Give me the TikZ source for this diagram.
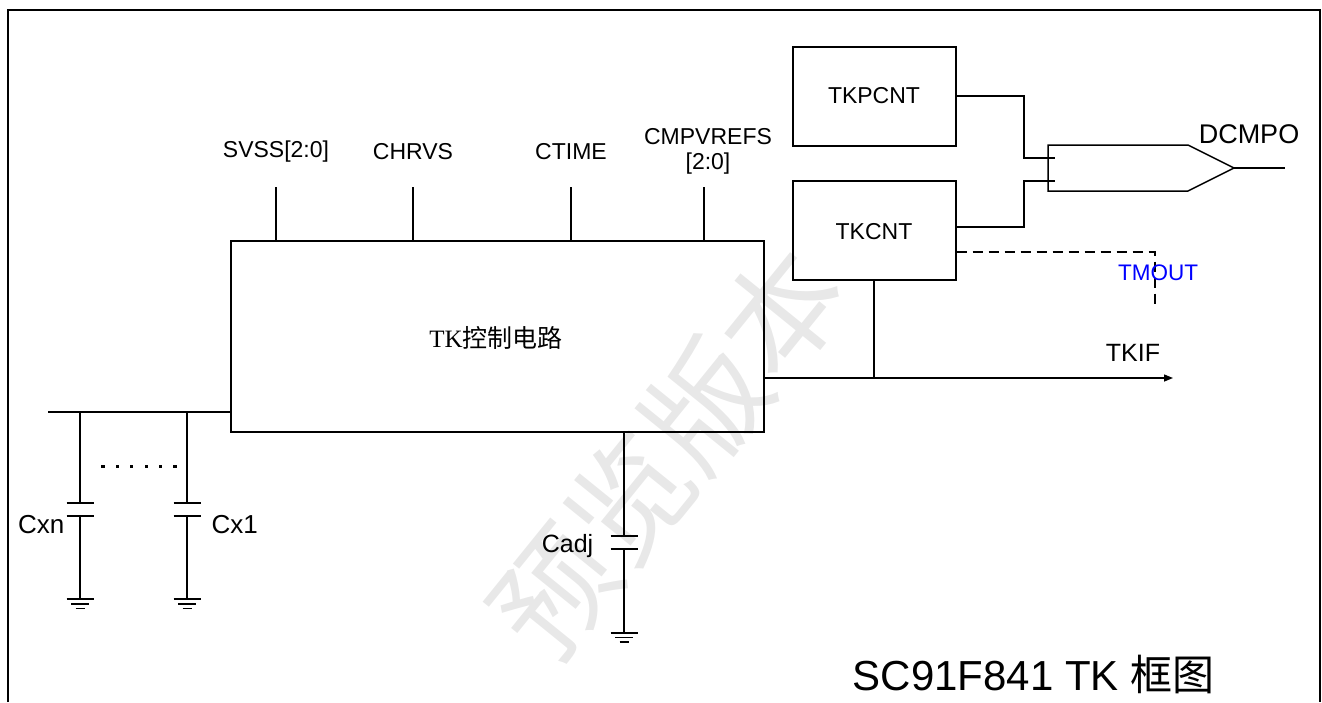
\documentclass[tikz,border=0pt]{standalone}
\usepackage{fontspec}
\setmainfont{Liberation Sans}
\newfontfamily\cjk{Noto Sans CJK SC}
\newfontfamily\tms{Liberation Serif}
\usetikzlibrary{arrows.meta}
\definecolor{tmblue}{RGB}{0,0,255}
\begin{document}
\begin{tikzpicture}[x=1pt,y=-1pt,line width=1.4pt,
  box/.style={draw,line width=1.6pt,inner sep=0pt,anchor=north west},
  lbl/.style={inner sep=0pt,font=\fontsize{23}{26}\selectfont},
  plate/.style={line width=1.4pt},
  dashline/.style={dash pattern=on 10pt off 6pt}]
\useasboundingbox (0,0) rectangle (1322,702);
% watermark
\node[rotate=51,text=gray!18,inner sep=0pt,font=\cjk\fontsize{120}{120}\selectfont] (wm) at (668,452) {预览版本};
% frame
\draw[line width=2pt] (8,702) -- (8,10) -- (1320,10) -- (1320,702);
% main block
\node[box,minimum width=533pt,minimum height=191pt] (ctl) at (230,240) {};
\node[inner sep=0pt] (ctltxt) at (496,338) {\fontsize{25}{28}\selectfont\tms TK\cjk 控制电路};
% pins
\coordinate (p1) at (276,187);
\coordinate (p2) at (413,187);
\coordinate (p3) at (571,187);
\coordinate (p4) at (704,187);
\foreach \p in {p1,p2,p3,p4} \draw (\p) -- (\p |- ctl.north);
\node[lbl] (lsvss) at (276,152) {SVSS[2:0]};
\node[lbl] (lchrvs) at (413,152) {CHRVS};
\node[lbl] (lctime) at (571,152) {CTIME};
\node[lbl] (lcmp) at (708,137) {CMPVREFS};
\node[lbl] (lcmp2) at (708,164) {[2:0]};
% counters
\node[box,minimum width=163pt,minimum height=99pt] (tkp) at (792,46) {};
\node[lbl] (tkptxt) at (874,96) {TKPCNT};
\node[box,minimum width=163pt,minimum height=99pt] (tkc) at (792,180) {};
\node[lbl] (tkctxt) at (874,232) {TKCNT};
% comparator
\coordinate (gA) at (1048,145);
\coordinate (gB) at (1188,145);
\coordinate (gT) at (1234,168);
\coordinate (gC) at (1188,191);
\coordinate (gD) at (1048,191);
\draw[line width=1.5pt] (gA) -- (gB) -- (gT) -- (gC) -- (gD) -- cycle;
\coordinate (gout) at (1285,168);
\draw (gT) -- (gout);
\node[inner sep=0pt,font=\fontsize{27}{30}\selectfont] (ldcmpo) at (1249,134) {DCMPO};
\coordinate (in1) at (1055,158);
\coordinate (in2) at (1055,181);
\draw (tkp.east |- 0,96) -- (1024,96) -- (1024,158) -- (in1);
\draw (tkc.east |- 0,227) -- (1024,227) -- (1024,181) -- (in2);
% TMOUT dashed
\coordinate (tmend) at (1155,306);
\draw[dashline] (tkc.east |- 0,252) -- (1155,252) -- (tmend);
\node[lbl,text=tmblue,font=\fontsize{22.5}{24}\selectfont] (ltmout) at (1158,273) {TMOUT};
% TKIF
\coordinate (tkifend) at (1173,378);
\coordinate (tkcb) at (874,378);
\draw[-{Triangle[length=9pt,width=7pt]}] (ctl.east |- tkifend) -- (tkifend);
\draw (tkcb |- tkc.south) -- (tkcb);
\node[inner sep=0pt,font=\fontsize{25}{28}\selectfont] (ltkif) at (1133,353) {TKIF};
% left bus
\coordinate (busL) at (48,412);
\draw (busL) -- (ctl.west |- busL);
% capacitors on bus
\foreach \x in {80,187} {
  \draw (\x,412) -- (\x,503);
  \draw[plate] (\x-13.5,503) -- (\x+13.5,503);
  \draw[plate] (\x-13.5,516) -- (\x+13.5,516);
  \draw (\x,516) -- (\x,599);
  \draw[line width=1.2pt] (\x-13.5,599) -- (\x+13.5,599);
  \draw[line width=1.2pt] (\x-9,604) -- (\x+9,604);
  \draw[line width=1.2pt] (\x-4.5,608.5) -- (\x+4.5,608.5);
}
\node[inner sep=0pt,anchor=east,font=\fontsize{26}{28}\selectfont] (lcxn) at (65,525) {Cxn};
\node[inner sep=0pt,anchor=west,font=\fontsize{26}{28}\selectfont] (lcx1) at (211,525) {Cx1};
% dots
\foreach \i in {0,...,5} \fill (103+\i*14.4-1.6,464.5) rectangle ++(3.2,3.2);
% Cadj
\draw (ctl.south -| 624,0) -- (624,536);
\draw[plate] (610.5,536) -- (637.5,536);
\draw[plate] (610.5,549) -- (637.5,549);
\draw (624,549) -- (624,633);
\draw[line width=1.2pt] (610.5,633) -- (637.5,633);
\draw[line width=1.2pt] (615,637.5) -- (633,637.5);
\draw[line width=1.2pt] (619.5,642) -- (628.5,642);
\node[inner sep=0pt,anchor=east,font=\fontsize{25}{28}\selectfont] (lcadj) at (594,546) {Cadj};
% title
\node[inner sep=0pt,anchor=base west,font=\fontsize{42}{46}\selectfont] (title) at (852,690) {SC91F841 TK {\cjk 框图}};
\end{tikzpicture}
\end{document}
